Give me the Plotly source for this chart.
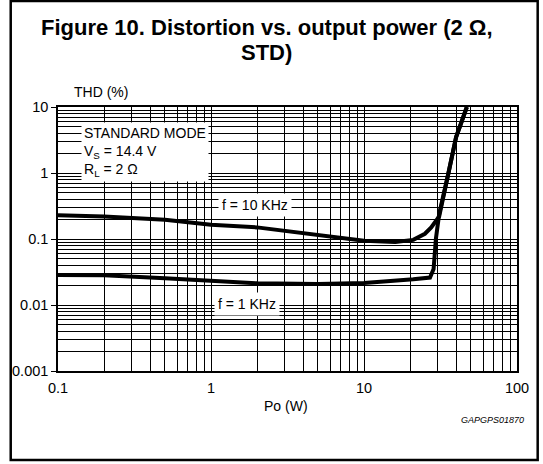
import math
import plotly.graph_objects as go

# ---- data ----
p_10k = [0.1, 0.2, 0.5, 1, 2, 5, 10, 16, 21, 25, 27.5, 31, 35, 40, 47]
thd_10k = [0.23, 0.22, 0.195, 0.165, 0.15, 0.115, 0.094, 0.09, 0.097, 0.12, 0.15, 0.22, 0.85, 3.5, 10]

p_1k = [0.1, 0.2, 0.5, 1, 2, 5, 10, 21, 27, 28.5, 29.5, 31, 33.4, 35.3, 40, 47]
thd_1k = [0.0285, 0.0283, 0.0255, 0.0235, 0.0213, 0.0208, 0.0215, 0.0245, 0.026, 0.035, 0.1, 0.24, 0.5, 0.9, 3.5, 10]

x_major = [0.1, 1, 10, 100]
x_major_text = ["0.1", "1", "10", "100"]
y_major = [0.001, 0.01, 0.1, 1, 10]
y_major_text = ["0.001", "0.01", "0.1", "1", "10"]
x_minor = [m * d for d in (0.1, 1, 10) for m in range(2, 10)]
y_minor = [m * d for d in (0.001, 0.01, 0.1, 1) for m in range(2, 10)]

FONT = "Liberation Sans, Arial, sans-serif"

fig = go.Figure()
fig.add_trace(go.Scatter(x=p_10k, y=thd_10k, mode="lines",
                         line=dict(color="black", width=4), showlegend=False))
fig.add_trace(go.Scatter(x=p_1k, y=thd_1k, mode="lines",
                         line=dict(color="black", width=4), showlegend=False))

axis_common = dict(
    type="log", showgrid=True, gridcolor="black", gridwidth=1,
    showline=True, linecolor="black", linewidth=1.5, mirror=True,
    zeroline=False, tickfont=dict(family=FONT, size=14.5, color="black"),
)
fig.update_xaxes(**axis_common, range=[-1, 2], tickmode="array",
                 tickvals=x_major, ticktext=x_major_text, ticks="", ticklabelstandoff=3,
                 minor=dict(tickvals=x_minor, showgrid=True, gridcolor="black", gridwidth=1, ticks=""))
fig.update_yaxes(**axis_common, range=[-3, 1], tickmode="array",
                 tickvals=y_major, ticktext=y_major_text, ticks="outside", ticklen=5,
                 tickcolor="black", tickwidth=1,
                 minor=dict(tickvals=y_minor, showgrid=True, gridcolor="black", gridwidth=1, ticks=""))

L, R, T, B = 51, 26, 107, 93
W, H = 543, 464
pw, ph = W - L - R, H - T - B

def px2paper_x(px):
    return (px - L) / pw

def px2paper_y(py):
    return (H - B - py) / ph

ann = []
ann.append(dict(text="<b>Figure 10. Distortion vs. output power (2 Ω,</b>",
                x=px2paper_x(263), y=px2paper_y(28), xref="paper", yref="paper",
                xanchor="center", yanchor="middle", showarrow=False,
                font=dict(family=FONT, size=22, color="black")))
ann.append(dict(text="<b>STD)</b>",
                x=px2paper_x(263), y=px2paper_y(52), xref="paper", yref="paper",
                xanchor="center", yanchor="middle", showarrow=False,
                font=dict(family=FONT, size=22, color="black")))
ann.append(dict(text="THD (%)", x=px2paper_x(65), y=px2paper_y(92), xref="paper", yref="paper",
                xanchor="left", yanchor="middle", showarrow=False,
                font=dict(family=FONT, size=14, color="black")))
ann.append(dict(text="Po (W)", x=px2paper_x(282), y=px2paper_y(406), xref="paper", yref="paper",
                xanchor="center", yanchor="middle", showarrow=False,
                font=dict(family=FONT, size=14, color="black")))
ann.append(dict(text="<i>GAPGPS01870</i>", x=px2paper_x(526), y=px2paper_y(420), xref="paper", yref="paper",
                xanchor="right", yanchor="middle", showarrow=False,
                font=dict(family=FONT, size=9, color="black")))
ann.append(dict(text="STANDARD MODE<br>V<sub>S</sub> = 14.4 V<br>R<sub>L</sub> = 2 Ω",
                x=math.log10(0.141), y=math.log10(6.0), xref="x", yref="y",
                xanchor="left", yanchor="top", align="left", showarrow=False,
                bgcolor="white", borderpad=2,
                font=dict(family=FONT, size=14, color="black")))
ann.append(dict(text="f = 10 KHz", x=math.log10(1.95), y=math.log10(0.33), xref="x", yref="y",
                xanchor="center", yanchor="middle", showarrow=False, bgcolor="white", borderpad=3,
                font=dict(family=FONT, size=14, color="black")))
ann.append(dict(text="f = 1 KHz", x=math.log10(1.72), y=math.log10(0.0102), xref="x", yref="y",
                xanchor="center", yanchor="middle", showarrow=False, bgcolor="white", borderpad=3,
                font=dict(family=FONT, size=14, color="black")))

fig.update_layout(
    width=W, height=H,
    margin=dict(l=L, r=R, t=T, b=B, pad=0),
    paper_bgcolor="white", plot_bgcolor="white",
    annotations=ann,
    shapes=[dict(type="rect", xref="paper", yref="paper",
                 x0=px2paper_x(3), x1=px2paper_x(538), y0=px2paper_y(460), y1=px2paper_y(1),
                 line=dict(color="black", width=2.5), layer="above")],
)

fig.write_html("out.html", config={"displayModeBar": False},
               post_script="document.body.style.margin='0';document.body.style.overflow='hidden';")
